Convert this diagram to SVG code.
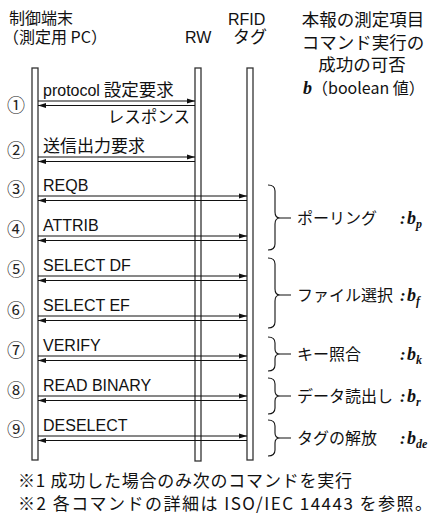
<svg xmlns="http://www.w3.org/2000/svg" width="443" height="516" viewBox="0 0 443 516">
<defs>
<style>
.jp{font-family:"Noto Sans CJK JP","Noto Sans",sans-serif;fill:#111;}
.ar{font-family:"Liberation Sans",Arial,sans-serif;font-size:16px;fill:#111;}
.bi{font-family:"Liberation Serif","Times New Roman",serif;font-weight:bold;font-style:italic;fill:#111;}
.num{font-family:"Noto Sans CJK JP",sans-serif;font-size:18px;fill:#222;text-anchor:middle;}
.bar{fill:#fff;stroke:#333;stroke-width:1.3;}
.msg{stroke:#111;stroke-width:1;fill:none;marker-end:url(#ah);}
.brace{stroke:#111;stroke-width:1.1;fill:none;}
</style>
<marker id="ah" markerUnits="userSpaceOnUse" markerWidth="8" markerHeight="6" refX="8" refY="3" orient="auto">
<path d="M0,0.5 L8,3 L0,5.5 z" fill="#111"/>
</marker>
</defs>
<rect width="443" height="516" fill="#fff"/>

<g id="pc">
<text class="jp" x="9" y="24" font-size="16">制御端末</text>
<text class="jp" x="3" y="43" font-size="16">（測定用 PC）</text>
<rect class="bar" x="32" y="68" width="6" height="392"/>
</g>
<g id="rw">
<text class="ar" x="185" y="43">RW</text>
<rect class="bar" x="195" y="68" width="6" height="393"/>
</g>
<g id="tag">
<text class="ar" x="228" y="25">RFID</text>
<text class="jp" x="233" y="43" font-size="17">タグ</text>
<rect class="bar" x="247" y="68" width="6" height="392"/>
</g>

<g id="header">
<text class="jp" x="363" y="26" font-size="17.5" text-anchor="middle">本報の測定項目</text>
<text class="jp" x="363" y="49" font-size="17.5" text-anchor="middle">コマンド実行の</text>
<text class="jp" x="362" y="71" font-size="17.5" text-anchor="middle">成功の可否</text>
<text x="303" y="94"><tspan class="bi" font-size="18">b</tspan><tspan class="jp" font-size="16">（boolean 値）</tspan></text>
</g>

<g id="steps">
<text class="num" x="16" y="112">①</text>
<text class="num" x="16" y="157">②</text>
<text class="num" x="16" y="196">③</text>
<text class="num" x="16" y="236">④</text>
<text class="num" x="16" y="276">⑤</text>
<text class="num" x="16" y="317">⑥</text>
<text class="num" x="16" y="357">⑦</text>
<text class="num" x="16" y="397">⑧</text>
<text class="num" x="16" y="436">⑨</text>
</g>

<g id="labels">
<text x="43" y="96"><tspan class="ar">protocol</tspan><tspan class="jp" font-size="17.5"> 設定要求</tspan></text>
<text class="jp" x="190" y="123" font-size="16.5" text-anchor="end">レスポンス</text>
<text class="jp" x="43" y="152" font-size="17">送信出力要求</text>
<text class="ar" x="43" y="191">REQB</text>
<text class="ar" x="43" y="231">ATTRIB</text>
<text class="ar" x="43" y="271">SELECT DF</text>
<text class="ar" x="43" y="311">SELECT EF</text>
<text class="ar" x="43" y="351">VERIFY</text>
<text class="ar" x="43" y="391">READ BINARY</text>
<text class="ar" x="43" y="431">DESELECT</text>
</g>

<g id="connectors">
<line class="msg" x1="38" y1="101" x2="195" y2="101"/>
<line class="msg" x1="195" y1="105.5" x2="38" y2="105.5"/>
<line class="msg" x1="38" y1="157" x2="195" y2="157"/>
<line class="msg" x1="195" y1="161.5" x2="38" y2="161.5"/>
<line class="msg" x1="38" y1="196" x2="247" y2="196"/>
<line class="msg" x1="247" y1="200.5" x2="38" y2="200.5"/>
<line class="msg" x1="38" y1="236" x2="247" y2="236"/>
<line class="msg" x1="247" y1="240.5" x2="38" y2="240.5"/>
<line class="msg" x1="38" y1="276" x2="247" y2="276"/>
<line class="msg" x1="247" y1="280.5" x2="38" y2="280.5"/>
<line class="msg" x1="38" y1="316" x2="247" y2="316"/>
<line class="msg" x1="247" y1="320.5" x2="38" y2="320.5"/>
<line class="msg" x1="38" y1="356" x2="247" y2="356"/>
<line class="msg" x1="247" y1="360.5" x2="38" y2="360.5"/>
<line class="msg" x1="38" y1="396" x2="247" y2="396"/>
<line class="msg" x1="247" y1="400.5" x2="38" y2="400.5"/>
<line class="msg" x1="38" y1="436" x2="247" y2="436"/>
<line class="msg" x1="247" y1="440.5" x2="38" y2="440.5"/>
</g>

<g id="polling">
<path class="brace" d="M268,185 Q275,185 275,191 L275,212 Q275,218 280,218 L291,218 M280,218 Q275,218 275,224 L275,244 Q275,250 268,250"/>
<text class="jp" x="297" y="224" font-size="16">ポーリング</text>
<text class="bi" x="400" y="224" font-size="17">:</text>
<text x="407" y="224"><tspan class="bi" font-size="18">b</tspan><tspan class="bi" font-size="12" dy="4">p</tspan></text>
</g>
<g id="fileselect">
<path class="brace" d="M268,258 Q275,258 275,264 L275,289 Q275,295 280,295 L291,295 M280,295 Q275,295 275,301 L275,322 Q275,328 268,328"/>
<text class="jp" x="297" y="301" font-size="16">ファイル選択</text>
<text class="bi" x="400" y="301" font-size="17">:</text>
<text x="407" y="301"><tspan class="bi" font-size="18">b</tspan><tspan class="bi" font-size="12" dy="4">f</tspan></text>
</g>
<g id="keycheck">
<path class="brace" d="M268,337 Q275,337 275,343 L275,349 Q275,354 280,354 L291,354 M280,354 Q275,354 275,359 L275,365 Q275,371 268,371"/>
<text class="jp" x="297" y="360" font-size="16">キー照合</text>
<text class="bi" x="400" y="360" font-size="17">:</text>
<text x="407" y="360"><tspan class="bi" font-size="18">b</tspan><tspan class="bi" font-size="12" dy="4">k</tspan></text>
</g>
<g id="dataread">
<path class="brace" d="M268,378 Q275,378 275,384 L275,391 Q275,396 280,396 L291,396 M280,396 Q275,396 275,401 L275,408 Q275,414 268,414"/>
<text class="jp" x="297" y="402" font-size="16">データ読出し</text>
<text class="bi" x="400" y="402" font-size="17">:</text>
<text x="407" y="402"><tspan class="bi" font-size="18">b</tspan><tspan class="bi" font-size="12" dy="4">r</tspan></text>
</g>
<g id="release">
<path class="brace" d="M268,420 Q275,420 275,426 L275,433 Q275,438 280,438 L291,438 M280,438 Q275,438 275,443 L275,450 Q275,456 268,456"/>
<text class="jp" x="297" y="444" font-size="16">タグの解放</text>
<text class="bi" x="400" y="444" font-size="17">:</text>
<text x="407" y="444"><tspan class="bi" font-size="18">b</tspan><tspan class="bi" font-size="12" dy="4">de</tspan></text>
</g>

<g id="notes">
<text class="jp" x="18" y="487" font-size="17" textLength="334" lengthAdjust="spacing">※1 成功した場合のみ次のコマンドを実行</text>
<text class="jp" x="18" y="510" font-size="17" textLength="414" lengthAdjust="spacing">※2 各コマンドの詳細は ISO/IEC 14443 を参照。</text>
</g>
</svg>
